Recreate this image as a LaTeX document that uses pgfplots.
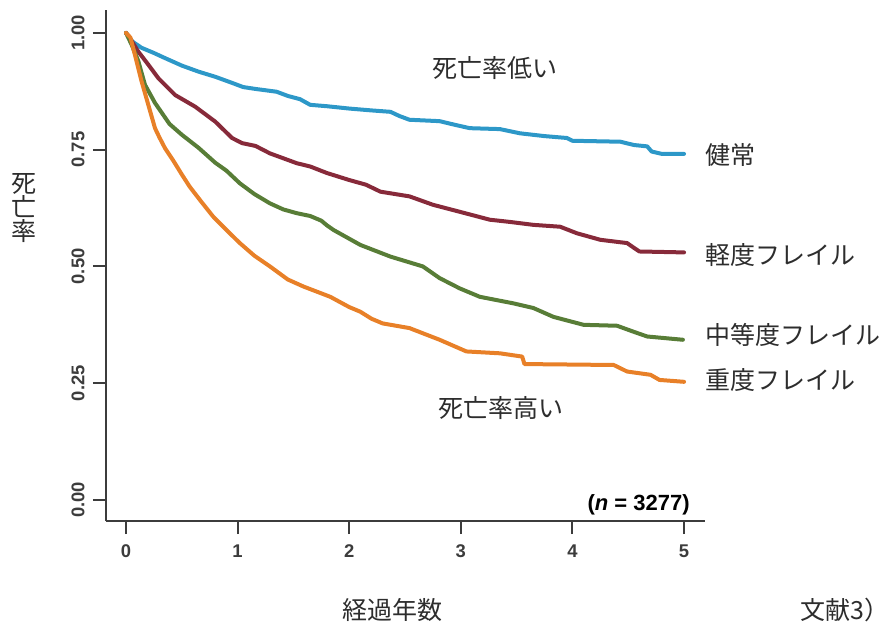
\documentclass[border=0pt]{standalone}
\usepackage{fontspec}
\setmainfont{Liberation Sans}
\newfontfamily\jp{Noto Sans CJK JP}
\usepackage{pgfplots}
\pgfplotsset{compat=1.18}
\definecolor{cblue}{RGB}{45,152,200}
\definecolor{cred}{RGB}{135,42,58}
\definecolor{cgreen}{RGB}{88,125,55}
\definecolor{corange}{RGB}{232,128,40}
\definecolor{axgray}{RGB}{60,60,60}
\definecolor{jpgray}{RGB}{45,45,45}
\begin{document}
\begin{tikzpicture}
\useasboundingbox (-53pt,-52.5pt) rectangle (393pt,260.5pt);
\begin{axis}[at={(0pt,0pt)}, anchor=south west, scale only axis,
  width=299.5pt, height=255.5pt,
  xmin=-0.179, xmax=5.188, ymin=-0.045, ymax=1.049,
  axis x line*=bottom, axis y line*=left,
  axis line style={axgray, line width=1pt},
  xtick={0,1,2,3,4,5}, xticklabels={0,1,2,3,4,5},
  ytick={0,0.25,0.5,0.75,1}, yticklabels={0.00,0.25,0.50,0.75,1.00},
  tick align=outside, major tick length=6.5pt,
  tick style={axgray, line width=1pt},
  ticklabel style={font=\fontsize{9.2}{10}\selectfont\bfseries, text=axgray},
  yticklabel style={rotate=90, anchor=south, inner sep=0pt},
  xticklabel style={anchor=north, inner sep=0pt},
  yticklabel shift=4pt, xticklabel shift=5pt,
  every axis plot/.append style={line width=2pt, line join=round, line cap=round},
]
\addplot[cblue] coordinates {(0,1) (0.03,0.99) (0.06,0.981) (0.14,0.968) (0.25,0.957) (0.35,0.946) (0.5,0.930) (0.65,0.917) (0.8,0.906) (0.95,0.893) (1.05,0.884) (1.16,0.880) (1.35,0.874) (1.45,0.865) (1.56,0.858) (1.65,0.846) (1.8,0.843) (2.0,0.838) (2.2,0.834) (2.37,0.831) (2.45,0.822) (2.54,0.814) (2.81,0.811) (2.95,0.803) (3.08,0.796) (3.35,0.794) (3.45,0.789) (3.53,0.785) (3.75,0.779) (3.95,0.775) (4.0,0.769) (4.43,0.767) (4.55,0.760) (4.67,0.757) (4.71,0.746) (4.8,0.741) (5.0,0.741)};
\addplot[cred] coordinates {(0,1) (0.05,0.983) (0.11,0.960) (0.2,0.932) (0.29,0.903) (0.44,0.867) (0.62,0.842) (0.8,0.810) (0.95,0.775) (1.04,0.764) (1.16,0.758) (1.29,0.742) (1.53,0.721) (1.65,0.714) (1.8,0.700) (2.0,0.685) (2.15,0.675) (2.28,0.660) (2.54,0.650) (2.75,0.632) (2.99,0.617) (3.26,0.600) (3.45,0.595) (3.65,0.589) (3.89,0.585) (4.04,0.571) (4.25,0.557) (4.49,0.550) (4.55,0.540) (4.6,0.532) (5.0,0.530)};
\addplot[cgreen] coordinates {(0,1) (0.05,0.975) (0.11,0.940) (0.17,0.889) (0.26,0.850) (0.39,0.805) (0.5,0.782) (0.65,0.754) (0.8,0.722) (0.9,0.705) (1.02,0.678) (1.15,0.655) (1.29,0.635) (1.41,0.622) (1.53,0.614) (1.65,0.608) (1.75,0.598) (1.8,0.588) (1.86,0.578) (2.1,0.546) (2.37,0.521) (2.66,0.500) (2.81,0.475) (2.99,0.453) (3.17,0.435) (3.47,0.421) (3.65,0.411) (3.83,0.392) (4.1,0.375) (4.4,0.373) (4.55,0.360) (4.67,0.350) (4.99,0.343)};
\addplot[corange] coordinates {(0,1) (0.04,0.99) (0.08,0.953) (0.14,0.896) (0.2,0.846) (0.26,0.796) (0.3,0.776) (0.35,0.753) (0.42,0.728) (0.5,0.697) (0.57,0.671) (0.67,0.640) (0.78,0.607) (0.9,0.578) (1.02,0.550) (1.15,0.523) (1.29,0.500) (1.45,0.472) (1.59,0.457) (1.83,0.435) (2.0,0.413) (2.1,0.403) (2.2,0.388) (2.3,0.378) (2.54,0.368) (2.81,0.343) (3.05,0.318) (3.35,0.314) (3.55,0.307) (3.57,0.291) (4.37,0.289) (4.49,0.275) (4.7,0.268) (4.78,0.257) (5.0,0.253)};
\end{axis}
\begin{scope}[every node/.style={inner sep=0pt, text=jpgray, font=\jp\fontsize{12.5}{14}\selectfont}]
\node at (194.5pt,226.5pt) {死亡率低い};
\node at (197.5pt,56.5pt) {死亡率高い};
\node[anchor=west] at (299.5pt,183pt) {健常};
\node[anchor=west] at (299.5pt,133pt) {軽度フレイル};
\node[anchor=west] at (299.5pt,93pt) {中等度フレイル};
\node[anchor=west] at (299.5pt,70.5pt) {重度フレイル};
\node[align=center] at (-41pt,156.5pt) {死\\[-2pt]亡\\[-2pt]率};
\node at (143pt,-44.5pt) {経過年数};
\node at (369.5pt,-44.5pt) {文献3）};
\end{scope}
\node[anchor=east, inner sep=0pt, text=black, font=\fontsize{11}{12}\selectfont\bfseries] at (292pt,8pt) {(\textit{n} = 3277)};
\end{tikzpicture}
\end{document}
